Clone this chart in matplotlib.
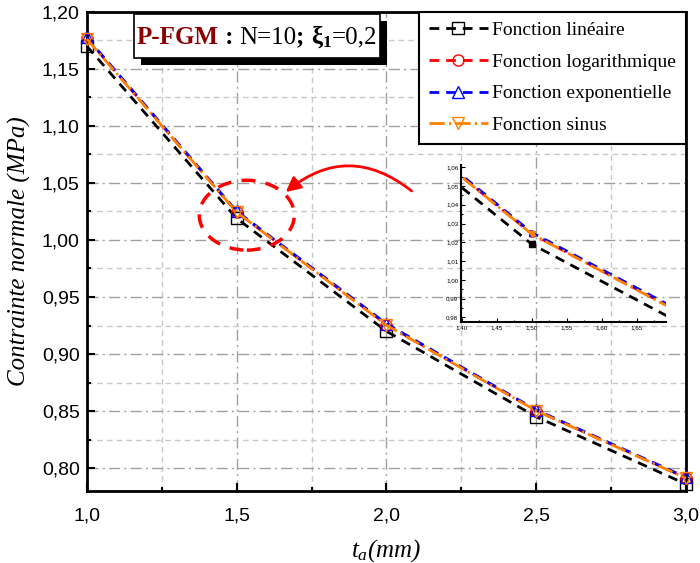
import matplotlib
matplotlib.use("Agg")
import matplotlib.pyplot as plt
from matplotlib.patches import Ellipse
from matplotlib.offsetbox import TextArea, HPacker, VPacker, DrawingArea, AnchoredOffsetbox
from matplotlib.font_manager import FontProperties
from matplotlib.ticker import MultipleLocator, FuncFormatter
import matplotlib.patheffects as pe

plt.rcParams["mathtext.fontset"] = "custom"
plt.rcParams["mathtext.rm"] = "Liberation Serif"
plt.rcParams["mathtext.it"] = "Liberation Serif:italic"
plt.rcParams["mathtext.bf"] = "Liberation Serif:bold"

# thickness t_a (mm) and normal stress (MPa) for each gradation law
ta = [1.0, 1.5, 2.0, 2.5, 3.0]
lineaire = [1.170, 1.019, 0.920, 0.845, 0.786]
logarithmique = [1.1768, 1.0245, 0.9259, 0.8505, 0.7915]
exponentielle = [1.1775, 1.0252, 0.9266, 0.8510, 0.7920]
sinus = [1.1762, 1.0244, 0.9253, 0.8503, 0.7912]

labels = ["Fonction linéaire", "Fonction logarithmique",
          "Fonction exponentielle", "Fonction sinus"]
colors = ["black", "#ff0000", "#0000ff", "#ff8000"]
markers = ["s", "o", "^", "v"]
styles = [(0, (3.5, 2.5)), (0, (3.5, 2.5)), (0, (3.5, 2.5)),
          (0, (5.5, 1.5, 0.8, 1.5))]
series = [lineaire, logarithmique, exponentielle, sinus]

serif = "Liberation Serif"
sans = "Liberation Sans"


def comma(fmt):
    return FuncFormatter(lambda v, pos: fmt.format(v).replace(".", ","))


fig = plt.figure(figsize=(7.0, 5.63), dpi=100)
ax = fig.add_axes([0.124, 0.128, 0.856, 0.851])

for y, c, m, ls, lab in zip(series, colors, markers, styles, labels):
    ax.plot(ta, y, color=c, ls=ls, lw=2, marker=m, ms=8, mfc="none",
            mec=c, mew=1, label=lab, clip_on=False, zorder=3)

ax.set_xlim(1.0, 3.0)
ax.set_ylim(0.78, 1.20)
ax.xaxis.set_major_locator(MultipleLocator(0.5))
ax.xaxis.set_minor_locator(MultipleLocator(0.25))
ax.yaxis.set_major_locator(MultipleLocator(0.05))
ax.yaxis.set_minor_locator(MultipleLocator(0.025))
ax.xaxis.set_major_formatter(comma("{:.1f}"))
ax.yaxis.set_major_formatter(comma("{:.2f}"))
ax.grid(which="major", color="#a0a0a0", ls=(0, (8, 3, 1.5, 3)), lw=1)
ax.grid(which="minor", color="#c8c8c8", ls=(0, (4, 3)), lw=1)
ax.set_axisbelow(True)
ax.tick_params(which="both", direction="in", width=1.5)
ax.tick_params(which="major", length=6)
ax.tick_params(which="minor", length=3)
ax.tick_params(axis="x", pad=12)
ax.tick_params(axis="y", pad=5)
for t in ax.get_xticklabels() + ax.get_yticklabels():
    t.set_fontfamily(sans)
    t.set_fontsize(14)
for s in ax.spines.values():
    s.set_linewidth(2)

ax.set_xlabel(r"$t_a$(mm)", fontfamily=serif, fontstyle="italic",
              fontsize=18, labelpad=9)
ax.set_ylabel("Contrainte normale (MPa)", fontfamily=serif,
              fontstyle="italic", fontsize=18, labelpad=8)

leg = ax.legend(loc="upper right", borderaxespad=0, fancybox=False,
                prop=FontProperties(family=serif, size=14), handlelength=3.0,
                handletextpad=0.25, labelspacing=0.72, borderpad=0.5,
                numpoints=1, framealpha=1)
leg.get_frame().set_edgecolor("black")
leg.get_frame().set_linewidth(1.5)
leg.set_zorder(6)

# parameter box with drop shadow
tp = {"family": serif, "size": 18}
parts = [
    TextArea("P-FGM", textprops=dict(tp, color="#8b0000", weight="bold")),
    TextArea(" : ", textprops=dict(tp, weight="bold")),
    TextArea("N=10", textprops=tp),
    TextArea("; ", textprops=dict(tp, weight="bold")),
    TextArea(r"$\mathbf{\xi_1}$", textprops=tp),
    TextArea("=0,2", textprops=tp),
]
row = HPacker(children=parts, align="baseline", pad=0, sep=0)
pack = VPacker(children=[DrawingArea(1, 5), row, DrawingArea(1, 4)],
               align="left", pad=0, sep=0)
box = AnchoredOffsetbox(loc="upper left", child=pack, pad=0.2, borderpad=0,
                        frameon=True, bbox_to_anchor=(0.0785, 0.996),
                        bbox_transform=ax.transAxes)
box.patch.set_boxstyle("square", pad=0)
box.patch.set_edgecolor("black")
box.patch.set_linewidth(1.2)
box.patch.set_path_effects([
    pe.withSimplePatchShadow(offset=(5, -5), shadow_rgbFace="black",
                             alpha=1)])
box.set_zorder(6)
ax.add_artist(box)

# highlight of the zoomed region
ax.add_patch(Ellipse((1.534, 1.0217), 0.317, 0.0612, fill=False,
                     ec="#ff0000", lw=2.5, ls=(0, (4, 3)), zorder=5))
ax.annotate("", xy=(1.664, 1.042), xytext=(2.084, 1.043),
            arrowprops=dict(arrowstyle="-|>", color="#ff0000", lw=2,
                            mutation_scale=22, shrinkA=0, shrinkB=0,
                            connectionstyle="arc3,rad=0.4"), zorder=5)

# inset zoom around t_a = 1.5
ins = fig.add_axes([0.6586, 0.428, 0.293, 0.279])
ins.patch.set_alpha(0)
for y, c, m, ls in zip(series, colors, markers, styles):
    ins.plot(ta, y, color=c, ls=ls, lw=2, marker=m, ms=4, mfc=c, mec=c)
ins.set_xlim(1.399, 1.692)
ins.set_ylim(0.9775, 1.0612)
ins.xaxis.set_major_locator(MultipleLocator(0.05))
ins.xaxis.set_minor_locator(MultipleLocator(0.025))
ins.yaxis.set_major_locator(MultipleLocator(0.01))
ins.yaxis.set_minor_locator(MultipleLocator(0.005))
ins.xaxis.set_major_formatter(comma("{:.2f}"))
ins.yaxis.set_major_formatter(comma("{:.2f}"))
ins.tick_params(which="both", direction="in", width=0.8, labelsize=4.5,
                pad=2)
ins.tick_params(which="major", length=3)
ins.tick_params(which="minor", length=1.5)
for t in ins.get_xticklabels() + ins.get_yticklabels():
    t.set_fontfamily(sans)
ins.spines["top"].set_visible(False)
ins.spines["right"].set_visible(False)
ins.spines["left"].set_linewidth(1.5)
ins.spines["bottom"].set_linewidth(1.5)

fig.savefig("out.png", dpi=100)
